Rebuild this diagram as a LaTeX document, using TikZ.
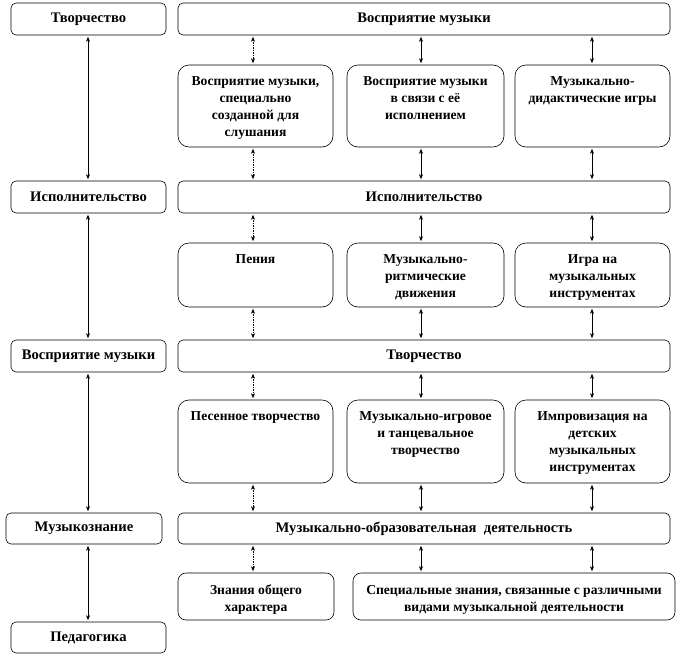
\documentclass[tikz,border=0pt]{standalone}
\usepackage{fontspec}
\setmainfont{Liberation Serif}
\usetikzlibrary{arrows.meta}
\newcommand\mybx[7]{%
  \node[#6] (#1) at ({(#2+#4)/2},{-(#3+#5)/2})
    {\parbox[c][\dimexpr#5pt-#3pt\relax][t]{\dimexpr#4pt-#2pt-6pt\relax}{\vskip 12pt\centering #7\par}};}
\newcommand\myhd[7]{%
  \node[#6] (#1) at ({(#2+#4)/2},{-(#3+#5)/2})
    {\parbox[c][\dimexpr#5pt-#3pt\relax][c]{\dimexpr#4pt-#2pt-6pt\relax}{\centering #7\par}};}
\tikzset{
  x=1pt, y=1pt,
  hbox/.style={draw=black, line width=0.6pt, rounded corners=5pt, inner sep=0pt,
    font=\fontsize{14.6}{17}\selectfont\bfseries},
  sbox/.style={draw=black, line width=0.6pt, rounded corners=11pt, inner sep=0pt,
    font=\fontsize{13.6}{17}\selectfont\bfseries},
  kbox/.style={draw=black, line width=0.6pt, rounded corners=8pt, inner sep=0pt,
    font=\fontsize{13.6}{17}\selectfont\bfseries},
  arr/.style={line width=0.6pt, {Stealth[length=5pt,width=4pt]}-{Stealth[length=5pt,width=4pt]},
    shorten <=1.5pt, shorten >=1.5pt},
  dotarr/.style={arr, dash pattern=on 1.5pt off 1pt},
}
\begin{document}
\begin{tikzpicture}
\useasboundingbox (0,0) rectangle (683,-656);
% left column
\myhd{L1}{8}{3}{169}{35}{hbox}{Творчество}
\myhd{L2}{8}{181}{169}{213}{hbox}{Исполнительство}
\myhd{L3}{8}{340}{169}{372}{hbox}{Восприятие музыки}
\myhd{L4}{3}{513}{165}{544}{hbox}{Музыкознание}
\myhd{L5}{8}{622}{169}{653}{hbox}{Педагогика}
% wide headers
\myhd{W1}{175}{3}{673}{35}{hbox}{Восприятие музыки}
\myhd{W2}{175}{181}{673}{213}{hbox}{Исполнительство}
\myhd{W3}{175}{340}{673}{372}{hbox}{Творчество}
\myhd{W4}{175}{513}{673}{544}{hbox}{Музыкально-образовательная\ \ деятельность}
% sub boxes
\mybx{S11}{175}{65}{336}{147}{sbox}{Восприятие музыки,\\ специально\\ созданной для\\ слушания}
\mybx{S12}{344}{65}{507}{147}{sbox}{Восприятие музыки\\ в связи с её\\ исполнением}
\mybx{S13}{512}{65}{673}{147}{sbox}{Музыкально-\\дидактические игры}
\mybx{S21}{175}{243}{336}{307}{sbox}{Пения}
\mybx{S22}{344}{243}{507}{307}{sbox}{Музыкально-\\ритмические\\ движения}
\mybx{S23}{512}{243}{673}{307}{sbox}{Игра на\\ музыкальных\\ инструментах}
\mybx{S31}{175}{400}{336}{483}{sbox}{Песенное творчество}
\mybx{S32}{344}{400}{507}{483}{sbox}{Музыкально-игровое\\ и танцевальное\\ творчество}
\mybx{S33}{512}{400}{673}{483}{sbox}{Импровизация на\\ детских\\ музыкальных\\ инструментах}
\mybx{S41}{175}{573}{337}{620}{kbox}{Знания общего\\ характера}
\mybx{S42}{350}{573}{678}{620}{kbox}{Специальные знания, связанные с различными\\ видами музыкальной деятельности}
% column coordinates
\coordinate (cL) at (88,0);
\coordinate (c1) at (253,0);
\coordinate (c2) at (421,0);
\coordinate (c3) at (592,0);
% left arrows
\draw[arr] (L1.south -| cL) -- (L2.north -| cL);
\draw[arr] (L2.south -| cL) -- (L3.north -| cL);
\draw[arr] (L3.south -| cL) -- (L4.north -| cL);
\draw[arr] (L4.south -| cL) -- (L5.north -| cL);
% row 1
\draw[dotarr] (W1.south -| c1) -- (S11.north -| c1);
\draw[arr] (W1.south -| c2) -- (S12.north -| c2);
\draw[arr] (W1.south -| c3) -- (S13.north -| c3);
\draw[dotarr] (S11.south -| c1) -- (W2.north -| c1);
\draw[arr] (S12.south -| c2) -- (W2.north -| c2);
\draw[arr] (S13.south -| c3) -- (W2.north -| c3);
% row 2
\draw[dotarr] (W2.south -| c1) -- (S21.north -| c1);
\draw[arr] (W2.south -| c2) -- (S22.north -| c2);
\draw[arr] (W2.south -| c3) -- (S23.north -| c3);
\draw[dotarr] (S21.south -| c1) -- (W3.north -| c1);
\draw[arr] (S22.south -| c2) -- (W3.north -| c2);
\draw[arr] (S23.south -| c3) -- (W3.north -| c3);
% row 3
\draw[dotarr] (W3.south -| c1) -- (S31.north -| c1);
\draw[arr] (W3.south -| c2) -- (S32.north -| c2);
\draw[arr] (W3.south -| c3) -- (S33.north -| c3);
\draw[dotarr] (S31.south -| c1) -- (W4.north -| c1);
\draw[arr] (S32.south -| c2) -- (W4.north -| c2);
\draw[arr] (S33.south -| c3) -- (W4.north -| c3);
% row 4
\draw[dotarr] (W4.south -| c1) -- (S41.north -| c1);
\draw[arr] (W4.south -| c2) -- (S42.north -| c2);
\draw[arr] (W4.south -| c3) -- (S42.north -| c3);
\end{tikzpicture}
\end{document}
